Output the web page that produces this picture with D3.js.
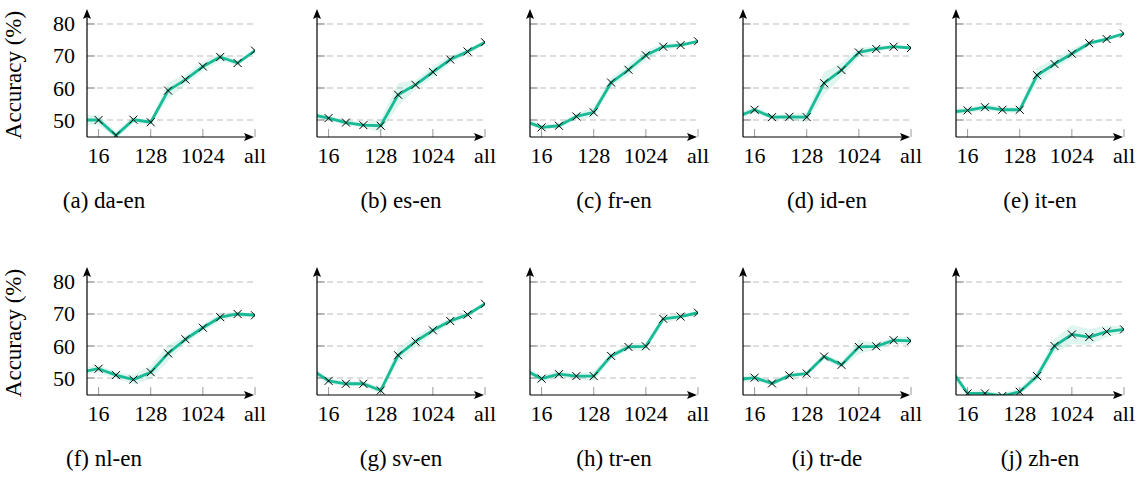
<!DOCTYPE html>
<html>
<head>
<meta charset="utf-8">
<script src="https://cdn.jsdelivr.net/npm/d3@7"></script>
<style>
    body { margin: 0; background: #fff; }
</style>
</head>
<body>
<svg id="chart" width="1143" height="477"></svg>
<script>
// x positions: 8 is clipped at the left edge, "all" sits after 4096
const sizes = ['8', '16', '32', '64', '128', '256', '512', '1024', '2048', '4096', 'all'];
const xTickLabels = ['16', '128', '1024', 'all'];
const yTicks = [50, 60, 70, 80];
const panelNames = ['da-en', 'es-en', 'fr-en', 'id-en', 'it-en', 'nl-en', 'sv-en', 'tr-en', 'tr-de', 'zh-en'];
const panelLetters = ['a', 'b', 'c', 'd', 'e', 'f', 'g', 'h', 'i', 'j'];

// mean accuracy per size
const daEn = [50.0, 50.0, 45.2, 50.1, 49.3, 59.2, 62.6, 66.7, 69.7, 67.8, 71.7];
const esEn = [51.7, 50.6, 49.2, 48.4, 48.2, 57.9, 61.0, 65.0, 68.9, 71.4, 74.3];
const frEn = [49.8, 47.7, 48.2, 51.1, 52.4, 61.7, 65.7, 70.2, 72.9, 73.4, 74.6];
const idEn = [51.0, 53.2, 50.9, 51.0, 50.9, 61.5, 65.6, 71.1, 72.2, 72.9, 72.5];
const itEn = [52.5, 53.0, 54.0, 53.2, 53.2, 64.0, 67.5, 70.7, 74.0, 75.3, 77.0];
const nlEn = [51.9, 52.9, 50.9, 49.5, 51.8, 57.7, 62.1, 65.7, 69.0, 70.0, 69.6];
const svEn = [52.7, 49.1, 48.2, 48.2, 46.1, 57.1, 61.4, 64.9, 67.8, 69.8, 73.2];
const trEn = [52.6, 49.8, 51.2, 50.6, 50.6, 56.9, 59.7, 59.9, 68.5, 69.2, 70.4];
const trDe = [49.4, 50.1, 48.3, 50.8, 51.4, 56.7, 54.1, 59.7, 59.9, 61.8, 61.6];
const zhEn = [53.0, 45.2, 45.2, 44.4, 45.7, 50.6, 60.0, 63.6, 62.8, 64.5, 65.2];

// half width of the shaded band per size
const daEnErr = [1.5, 1.5, 1.2, 1.0, 0.8, 2.6, 1.5, 1.5, 1.2, 0.8, 0.4];
const esEnErr = [1.0, 0.8, 0.8, 0.8, 2.0, 3.6, 1.5, 1.8, 1.2, 1.0, 0.4];
const frEnErr = [1.0, 0.8, 0.8, 1.0, 1.5, 1.5, 1.8, 1.5, 1.0, 0.6, 0.4];
const idEnErr = [1.0, 1.0, 0.8, 0.8, 1.6, 3.5, 2.2, 1.5, 0.8, 0.6, 0.4];
const itEnErr = [1.0, 0.8, 1.0, 0.8, 1.0, 2.4, 1.5, 1.5, 0.8, 0.6, 0.4];
const nlEnErr = [1.2, 1.2, 1.0, 1.5, 2.0, 2.5, 1.2, 1.2, 1.2, 0.8, 0.5];
const svEnErr = [1.0, 1.0, 0.8, 0.8, 1.0, 2.2, 1.8, 1.2, 1.0, 0.8, 0.5];
const trEnErr = [1.0, 1.0, 1.2, 0.8, 1.5, 1.0, 1.0, 1.2, 1.2, 0.8, 0.6];
const trDeErr = [1.0, 1.0, 0.8, 0.8, 0.8, 1.0, 1.0, 2.2, 1.0, 1.0, 1.2];
const zhEnErr = [1.0, 0.8, 0.8, 0.8, 1.0, 1.5, 2.2, 3.0, 2.5, 1.8, 1.0];

const panelValues = [daEn, esEn, frEn, idEn, itEn, nlEn, svEn, trEn, trDe, zhEn];
const panelErrors = [daEnErr, esEnErr, frEnErr, idEnErr, itEnErr, nlEnErr, svEnErr, trEnErr, trDeErr, zhEnErr];

let colX = [87, 317, 530, 743, 956]; // y-axis position of each column
let rowY = [0, 258];
let plotW = 168;
let plotTop = 11, plotBottom = 137;
let lineColor = '#19bb96';
let serif = 'Liberation Serif';

let svg = d3.select('#chart');

let x = d3.scaleLinear().domain([0.333, sizes.length - 1]).range([0, plotW]);
let y = d3.scaleLinear().domain([44.69, 84.06]).range([plotBottom, plotTop]);

let lineGen = d3.line()
    .x(function(d) { return x(d[0]); })
    .y(function(d) { return y(d[1]); });
let areaGen = d3.area()
    .x(function(d) { return x(d[0]); })
    .y0(function(d) { return y(d[1] - d[2]); })
    .y1(function(d) { return y(d[1] + d[2]); });

panelNames.forEach(function(name, p) {
    let col = p % 5, row = Math.floor(p / 5);
    let g = svg.append('g').attr('transform', `translate(${colX[col]},${rowY[row]})`);

    let clipId = 'clip' + p;
    g.append('clipPath').attr('id', clipId)
        .append('rect')
        .attr('x', 0).attr('y', plotTop)
        .attr('width', plotW).attr('height', plotBottom - plotTop);

    // grid
    g.selectAll('.grid').data(yTicks).enter().append('line')
        .attr('x1', 0).attr('x2', plotW)
        .attr('y1', d => y(d)).attr('y2', d => y(d))
        .attr('stroke', '#bdbdbd').attr('stroke-width', 1)
        .attr('stroke-dasharray', '6,4');
    // y ticks (inside)
    g.selectAll('.ytick').data(yTicks).enter().append('line')
        .attr('x1', 0).attr('x2', 8)
        .attr('y1', d => y(d)).attr('y2', d => y(d))
        .attr('stroke', '#8a8a8a').attr('stroke-width', 1);
    // x ticks (inside)
    g.selectAll('.xtick').data(xTickLabels).enter().append('line')
        .attr('x1', d => x(sizes.indexOf(d))).attr('x2', d => x(sizes.indexOf(d)))
        .attr('y1', plotBottom).attr('y2', plotBottom - 8)
        .attr('stroke', '#9a9a9a').attr('stroke-width', 1);

    let vals = panelValues[p], errs = panelErrors[p];
    let pts = vals.map(function(v, i) { return [i, v, errs[i]]; });
    let inner = g.append('g').attr('clip-path', `url(#${clipId})`);
    inner.append('path')
        .attr('d', areaGen(pts))
        .attr('fill', lineColor).attr('fill-opacity', 0.14);
    inner.append('path')
        .attr('d', lineGen(pts))
        .attr('fill', 'none').attr('stroke', lineColor).attr('stroke-width', 2.8)
        .attr('stroke-linejoin', 'round');
    let s = 4; // marker half size
    inner.selectAll('.mark').data(pts).enter().append('path')
        .attr('d', d => {
            let cx = x(d[0]), cy = y(d[1]);
            return `M${cx - s},${cy - s}L${cx + s},${cy + s}M${cx - s},${cy + s}L${cx + s},${cy - s}`;
        })
        .attr('stroke', '#000').attr('stroke-width', 1).attr('fill', 'none');

    // axes with arrows
    g.append('line').attr('x1', 0).attr('x2', 0).attr('y1', plotBottom).attr('y2', plotTop + 5)
        .attr('stroke', '#000').attr('stroke-width', 1.2);
    g.append('path').attr('d', `M0,${plotTop - 2}L4,${plotTop + 8}L0,${plotTop + 6}L-4,${plotTop + 8}Z`).attr('fill', '#000');
    g.append('line').attr('x1', 0).attr('x2', plotW - 6).attr('y1', plotBottom).attr('y2', plotBottom)
        .attr('stroke', '#000').attr('stroke-width', 1.2);
    g.append('path').attr('d', `M${plotW - 1},${plotBottom}L${plotW - 11},${plotBottom - 4}L${plotW - 9},${plotBottom}L${plotW - 11},${plotBottom + 4}Z`).attr('fill', '#000');

    // tick labels
    g.selectAll('.xlab').data(xTickLabels).enter().append('text')
        .attr('x', d => x(sizes.indexOf(d))).attr('y', plotBottom + 26)
        .attr('text-anchor', 'middle').attr('font-size', 22)
        .attr('font-family', serif)
        .text(d => d);
    if (col === 0) {
        g.selectAll('.ylab').data(yTicks).enter().append('text')
            .attr('x', -12).attr('y', d => y(d) + 7.5)
            .attr('text-anchor', 'end').attr('font-size', 22)
            .attr('font-family', serif)
            .text(d => d);
        g.append('text')
            .attr('transform', `translate(-66,${(plotTop + plotBottom) / 2 + 1}) rotate(-90)`)
            .attr('text-anchor', 'middle').attr('font-size', 23)
            .attr('font-family', serif)
            .text('Accuracy (%)');
    }

    // caption
    let capX = col === 0 ? 104 - colX[0] : plotW / 2;
    g.append('text')
        .attr('x', capX).attr('y', 208)
        .attr('text-anchor', 'middle').attr('font-size', 23)
        .attr('font-family', serif)
        .text(`(${panelLetters[p]}) ${name}`);
});
</script>
</body>
</html>
